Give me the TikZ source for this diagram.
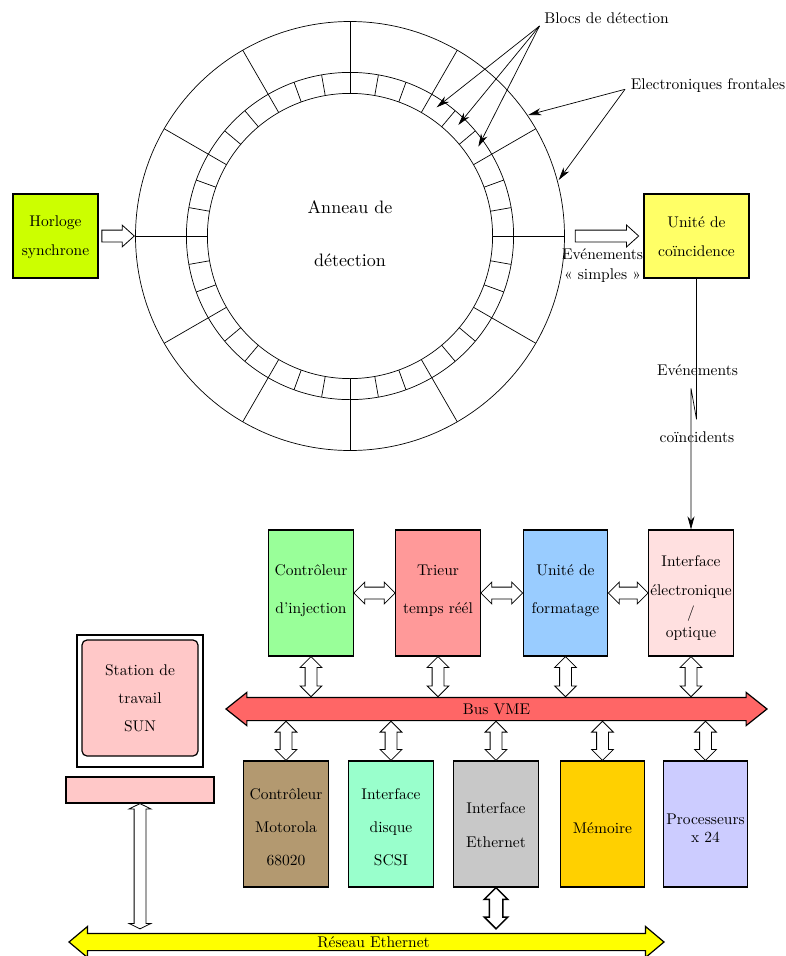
\documentclass[tikz,border=0pt]{standalone}
\usepackage{fontspec}
\setmainfont{lmroman10-regular.otf}
\usetikzlibrary{calc,arrows.meta,shapes.arrows}

\definecolor{clockC}{HTML}{CCFF00}
\definecolor{coincC}{HTML}{FFFF66}
\definecolor{injectC}{HTML}{99FF99}
\definecolor{sortC}{HTML}{FF9999}
\definecolor{formatC}{HTML}{99CCFF}
\definecolor{opticC}{HTML}{FFE0E0}
\definecolor{busC}{HTML}{FF6666}
\definecolor{motorolaC}{HTML}{B39970}
\definecolor{scsiC}{HTML}{99FFCC}
\definecolor{etherC}{HTML}{C8C8C8}
\definecolor{memoryC}{HTML}{FFD000}
\definecolor{cpuC}{HTML}{CCCCFF}
\definecolor{sunC}{HTML}{FFC8C8}
\definecolor{netC}{HTML}{FFFF00}

% a hollow arrow, stretched between two points
\newcommand{\hollowLink}[3]{%
    \path let \p1=($(#2)-(#3)$), \n1={veclen(\x1,\y1)} in
        (#2) -- node[sloped,#1,minimum height=\n1] {} (#3);}
% struts that move the text of a box down / up
\newcommand{\padT}[1]{\rule{0pt}{#1pt}}
\newcommand{\padB}[1]{\rule[-#1pt]{0pt}{#1pt}}

\begin{document}
\begin{tikzpicture}[
    x=1pt, y=-1pt,
    txtS/.style={font=\fontsize{15.5}{18}\selectfont, align=center},
    boxS/.style={draw, line width=1.2pt, inner sep=0pt, txtS},
    tallB/.style={boxS, minimum width=84.5pt, minimum height=126pt},
    squareB/.style={boxS, minimum height=84pt},
    holA/.style={draw, fill=white, line width=.8pt, shape=double arrow, inner xsep=0pt, inner ysep=5.5pt,
        double arrow head extend=5pt, double arrow tip angle=90},
    holS/.style={draw, fill=white, line width=.8pt, shape=single arrow, inner xsep=0pt, inner ysep=5.5pt,
        single arrow head extend=5pt, single arrow tip angle=84, xshift=-3pt},
    busS/.style={draw, line width=1.2pt, shape=double arrow, inner xsep=0pt, txtS,
        text height=11pt, text depth=1pt},
    fineL/.style={line width=.7pt},
    tipL/.style={line width=.7pt, -{Stealth[length=13pt,width=7pt,inset=4pt]}},
 ]
    \useasboundingbox (0,0) rectangle (785,956);

    % ~~~ the ring ~~~~~~~~~~~~~~
    \coordinate (C) at (350,236);
    \coordinate (ringW) at (135.5,236);
    \coordinate (ringE) at (564.5,236);
    \foreach \r in {142.6,163.6,214.5}
        \draw[fineL] (C) circle (\r);
    \foreach \a in {0,30,...,330}
        \draw[fineL] ($(C)+(\a:142.6 and -142.6)$) -- ($(C)+(\a:214.5 and -214.5)$);
    \foreach \a in {10,20,40,50,70,80,100,110,130,140,160,170,
                    190,200,220,230,250,260,280,290,310,320,340,350}
        \draw[fineL] ($(C)+(\a:142.6 and -142.6)$) -- ($(C)+(\a:163.6 and -163.6)$);
    \node[txtS, font=\fontsize{18}{20}\selectfont] (ringT) at (350,233.5) {Anneau de\\[33pt]détection};

    % ~~~ top boxes ~~~~~~~~~~~~~~
    \node[squareB, minimum width=85pt, fill=clockC] (clock) at (55.5,236) {\padT{13}Horloge\\[11pt]synchrone};
    \node[squareB, minimum width=105pt, fill=coincC] (coinc) at (696.5,236) {\padT{13}Unité de\\[11pt]coïncidence};

    % ~~~ front end crate ~~~~~~~~~~~~~~
    \node[tallB, fill=injectC] (inject) at (311,593) {Contrôleur\\[20pt]d'injection\padB{7}};
    \node[tallB, fill=sortC] (sorter) at (438,593) {Trieur\\[20pt]temps réél\padB{7}};
    \node[tallB, fill=formatC] (format) at (565.5,593) {Unité de\\[20pt]formatage\padB{7}};
    \node[tallB, fill=opticC] (optic) at (691,593) {\padT{21}Interface\\[11pt]électronique\\[4pt]/\\[2pt]optique};

    \node[busS, fill=busC, inner ysep=5pt, minimum height=541pt,
          double arrow head extend=5pt, double arrow tip angle=77] (bus) at (496.5,709) {Bus VME};

    \node[tallB, fill=motorolaC] (motorola) at (286,824) {\padT{18}Contrôleur\\[15pt]Motorola\\[15pt]68020};
    \node[tallB, fill=scsiC] (scsi) at (391,824) {\padT{18}Interface\\[15pt]disque\\[15pt]SCSI};
    \node[tallB, fill=etherC] (ether) at (496,824) {\padT{13}Interface\\[16pt]Ethernet};
    \node[tallB, fill=memoryC] (memory) at (602.5,824) {\padT{19}Mémoire};
    \node[tallB, fill=cpuC] (cpu) at (705.5,824) {\padT{19}Processeurs\\x 24};

    % ~~~ workstation ~~~~~~~~~~~~~~
    \node[boxS, minimum width=126pt, minimum height=132pt] (screen) at (140,701) {};
    \node[boxS, rounded corners=5pt, fill=sunC, minimum width=116pt, minimum height=116pt]
        (sun) at (140,698) {Station de\\[10pt]travail\\[10pt]SUN};
    \node[boxS, fill=sunC, minimum width=148pt, minimum height=26pt] (keyboard) at (140,790) {};

    \node[busS, fill=netC, inner ysep=2pt, minimum height=595pt,
          double arrow head extend=7pt, double arrow tip angle=80] (net) at (366.5,942)
          {\hspace*{14pt}Réseau Ethernet};

    % ~~~ free labels ~~~~~~~~~~~~~~
    \node[txtS] (blocT) at (606.5,18) {Blocs de détection};
    \node[txtS] (frontT) at (708,85.5) {Electroniques frontales};
    \node[txtS] (singleT) at (602.5,266) {Evénements\\[2pt]« simples »};
    \node[txtS] (pairA) at (697.5,370) {Evénements};
    \node[txtS] (pairB) at (697,437) {coïncidents};

    % ~~~ pointers ~~~~~~~~~~~~~~
    \coordinate (blocO) at (539.5,26);
    \coordinate (frontO) at (625,89.3);
    \foreach \k/\p in {blocA/{436.7,107.3},blocB/{458.3,125},blocC/{478.3,146.7}}{
        \coordinate (\k) at (\p);
        \draw[tipL] (blocO) -- (\k);
    }
    \foreach \k/\p in {frontA/{528.3,115},frontB/{558.7,180}}{
        \coordinate (\k) at (\p);
        \draw[tipL] (frontO) -- (\k);
    }
    \coordinate (bendA) at (696.5,419.3);
    \coordinate (bendB) at (691,388.3);
    \draw[tipL] (coinc.south) -- (bendA) -- (bendB) -- (optic.north);

    % ~~~ hollow arrows ~~~~~~~~~~~~~~
    \hollowLink{holS}{$(clock.east)+(3,0)$}{$(ringW)+(-1.5,0)$}
    \hollowLink{holS}{$(ringE)+(10.5,0)$}{$(coinc.west)+(-5,0)$}
    \foreach \a/\b in {inject/sorter,sorter/format,format/optic}{
        \hollowLink{holA}{\a.east}{\b.west}
    }
    \foreach \k in {inject,sorter,format,optic}{
        \hollowLink{holA}{\k.south}{\k.south |- bus.north}
    }
    \foreach \k in {motorola,scsi,ether,memory,cpu}{
        \hollowLink{holA}{\k.north |- bus.south}{\k.north}
    }
    \hollowLink{holA,double arrow tip angle=128}{keyboard.south}{$(keyboard.south |- net.north)+(0,-4)$}
    \hollowLink{holA,line width=1.5pt,inner ysep=6pt}{ether.south}{$(ether.south |- net.north)+(0,-4)$}
\end{tikzpicture}
\end{document}
